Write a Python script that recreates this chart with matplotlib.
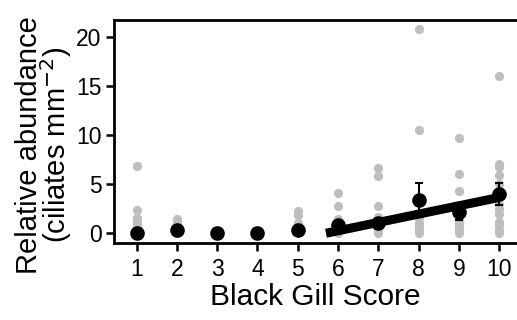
import numpy as np
import matplotlib.pyplot as plt

plt.rcParams['font.family'] = ['Liberation Sans', 'DejaVu Sans']

raw_scores = [1, 1, 1, 1, 1, 1, 1, 1, 1,
              2, 2, 2, 2,
              3, 4,
              5, 5, 5, 5,
              6, 6, 6, 6, 6,
              7, 7, 7, 7, 7, 7, 7,
              8, 8, 8, 8, 8, 8, 8,
              9, 9, 9, 9, 9, 9, 9, 9,
              10, 10, 10, 10, 10, 10, 10, 10, 10, 10, 10, 10]
raw_values = [6.9, 2.4, 1.6, 1.3, 1.0, 0.7, 0.4, 0.1, 0.0,
              1.5, 1.1, 0.3, 0.0,
              0.0, 0.0,
              2.3, 1.9, 1.0, 0.3,
              4.1, 2.8, 1.5, 0.5, 0.0,
              6.7, 5.8, 2.8, 1.7, 1.0, 0.4, 0.0,
              20.8, 10.5, 1.6, 1.0, 0.6, 0.3, 0.0,
              9.7, 6.0, 4.3, 1.5, 1.0, 0.6, 0.3, 0.0,
              16.0, 7.1, 6.8, 5.9, 5.0, 3.0, 2.5, 2.0, 1.1, 0.8, 0.3, 0.0]

# means and standard errors
scores = [1, 2, 3, 4, 5, 6, 7, 8, 9, 10]
means = [0.05, 0.3, 0.02, 0.03, 0.35, 0.8, 1.0, 3.4, 2.2, 4.0]
sems = [0.05, 0.1, 0.02, 0.02, 0.15, 0.3, 0.3, 1.7, 0.9, 1.1]

# fitted regression line
fit_x = [5.7, 10]
fit_slope = 0.85
fit_intercept = -4.85

fig = plt.figure(figsize=(5.17, 3.2), dpi=100)
ax = fig.add_axes([0.2205, 0.2406, 0.7795, 0.6954])

ax.scatter(raw_scores, raw_values, s=44, color='#bebebe', zorder=1, linewidths=0)
fx = np.array(fit_x)
ax.plot(fx, fit_slope * fx + fit_intercept, color='black', lw=6.5,
        solid_capstyle='butt', zorder=2)
ax.errorbar(scores, means, yerr=sems, fmt='o', color='black', ms=9.5,
            elinewidth=1.5, capsize=3, capthick=1.5, zorder=3)

ax.set_xlim(0.44, 10.44)
ax.set_ylim(-1.0, 21.7)
ax.set_xticks(scores)
ax.set_yticks([0, 5, 10, 15, 20])
for side in ['left', 'bottom', 'top']:
    ax.spines[side].set_linewidth(2)
ax.spines['right'].set_visible(False)
ax.tick_params(width=1.8, length=6, labelsize=16.5, colors='black', pad=3)
ax.tick_params(axis='x', pad=5)

ax.set_xlabel('Black Gill Score', fontsize=21.5, labelpad=1)
ax.set_ylabel('Relative abundance\n(ciliates mm$^{-2}$)', fontsize=21,
              linespacing=0.8)
ax.yaxis.set_label_coords(-0.1, 0.44)

fig.savefig('out.png', dpi=100)
